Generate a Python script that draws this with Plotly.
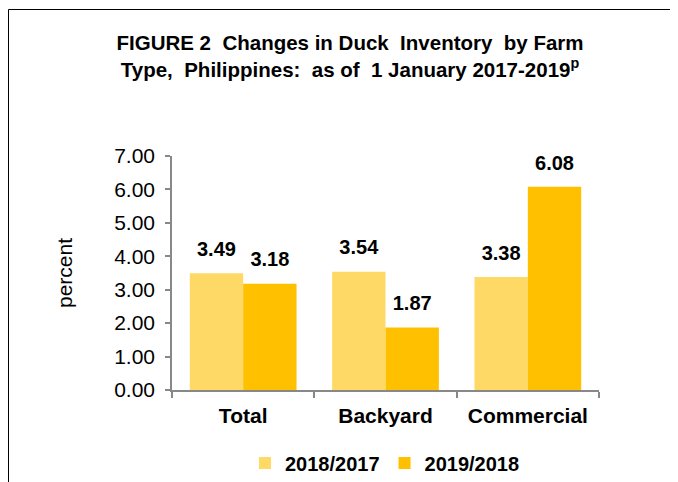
import plotly.graph_objects as go

categories = ["Total", "Backyard", "Commercial"]
series_names = ["2018/2017", "2019/2018"]
values_2018_2017 = [3.49, 3.54, 3.38]
values_2019_2018 = [3.18, 1.87, 6.08]
series_colors = ["#FFD966", "#FFC000"]
y_ticks = [0, 1, 2, 3, 4, 5, 6, 7]

# page is 678x482; the html body has an 8px margin, so the figure starts at (8, 8)
PAGE_W, PAGE_H, OFF = 678, 482, 8
W, H = PAGE_W - OFF, PAGE_H - OFF
# plot area in page pixels
X0, X1, Y0, Y1 = 172, 599, 156, 390
ML, MR, MT, MB = X0 - OFF, PAGE_W - X1, Y0 - OFF, PAGE_H - Y1
PW, PH = X1 - X0, Y1 - Y0

FONT = "Liberation Sans, Arial, sans-serif"


def px_x(px):
    return (px - X0) / PW


def px_y(py):
    return (Y1 - py) / PH


fig = go.Figure()
for i, (name, vals, col) in enumerate(zip(series_names, [values_2018_2017, values_2019_2018], series_colors)):
    fig.add_trace(go.Bar(
        x=categories, y=vals, name=name, marker=dict(color=col, line=dict(width=0)),
        offsetgroup=str(i), alignmentgroup="a",
    ))
for i, vals in enumerate([values_2018_2017, values_2019_2018]):
    fig.add_trace(go.Scatter(
        x=categories, y=vals, mode="markers+text", showlegend=False, hoverinfo="skip",
        offsetgroup=str(i), alignmentgroup="a",
        marker=dict(size=18, opacity=0),
        text=[f"<b>{v:.2f}</b>" for v in vals], textposition="top center",
        textfont=dict(family=FONT, size=20, color="black"), cliponaxis=False,
    ))

fig.update_layout(
    width=W, height=H,
    margin=dict(l=ML, r=MR, t=MT, b=MB, autoexpand=False),
    paper_bgcolor="white", plot_bgcolor="white",
    barmode="group", bargap=0.25, bargroupgap=0, scattermode="group",
    font=dict(family=FONT, color="black"),
    title=dict(
        text="<b>FIGURE 2\u00a0 Changes in Duck\u00a0 Inventory\u00a0 by Farm<br>Type,\u00a0 Philippines:\u00a0 as of\u00a0 1 January 2017-2019<sup>p</sup></b>",
        x=(350 - OFF) / W, xanchor="center", xref="container",
        y=1 - (50 - OFF) / H, yanchor="top", yref="container",
        font=dict(family=FONT, size=20.5, color="black", lineposition="none"),
    ),
    showlegend=True,
    legend=dict(orientation="h", x=px_x(385), xanchor="center", y=px_y(463), yanchor="middle",
                font=dict(family=FONT, size=20, color="black", weight="bold"),
                itemwidth=30, tracegroupgap=0),
    shapes=[
        dict(type="line", xref="paper", yref="paper", x0=px_x(8.5), x1=px_x(PAGE_W + 2), y0=px_y(9.5), y1=px_y(9.5),
             line=dict(color="black", width=1)),
        dict(type="line", xref="paper", yref="paper", x0=px_x(8.5), x1=px_x(8.5), y0=px_y(9.5), y1=px_y(PAGE_H + 2),
             line=dict(color="black", width=1)),
    ],
)
fig.update_xaxes(
    showline=True, linecolor="#888888", linewidth=1.5,
    ticks="outside", tickson="boundaries", ticklen=6, tickcolor="#888888", tickwidth=1.5,
    tickfont=dict(family=FONT, size=21, color="black", weight="bold"), ticklabelstandoff=6,
    showgrid=False, automargin=False,
)
fig.update_yaxes(
    range=[0, 7], tickvals=y_ticks, tickformat=".2f",
    showline=True, linecolor="#888888", linewidth=1.5,
    ticks="outside", ticklen=5, tickcolor="#888888", tickwidth=1.5,
    tickfont=dict(family=FONT, size=21, color="black"), ticklabelstandoff=6,
    showgrid=False, zeroline=False, automargin=False,
    title=dict(text="percent", font=dict(family=FONT, size=21, color="black"), standoff=36),
)

fig.write_html("out.html")
